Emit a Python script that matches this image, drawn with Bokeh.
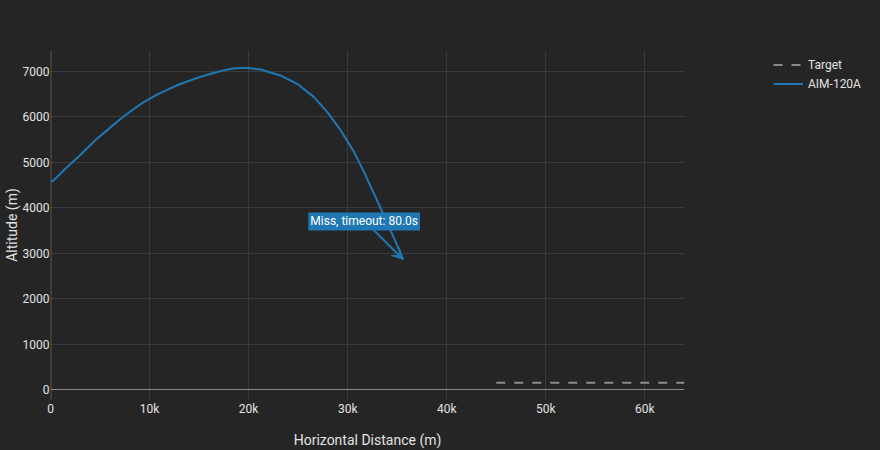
from bokeh.plotting import figure
from bokeh.models import (Range1d, FixedTicker, Span, Label, Arrow, VeeHead,
                          Legend, LegendItem)
from bokeh.embed import file_html
from bokeh.resources import INLINE

# ---- data ----
missile_x = [0, 250, 600, 1500, 2900, 4500, 6200, 7600, 9250, 10900, 12950,
             15000, 17000, 18350, 19700, 21200, 23200, 24900, 26600, 27950,
             29300, 30650, 31650, 32650, 33650, 34700, 35600]
missile_y = [4575, 4590, 4660, 4856, 5133, 5477, 5792, 6042, 6297, 6503, 6708,
             6868, 6993, 7059, 7075, 7037, 6906, 6723, 6429, 6099,
             5697, 5220, 4781, 4306, 3830, 3318, 2860]
target_x = [45000, 64000]
target_y = [150, 150]

x_ticks = [0, 10000, 20000, 30000, 40000, 50000, 60000]
x_tick_labels = ["0", "10k", "20k", "30k", "40k", "50k", "60k"]
y_ticks = [0, 1000, 2000, 3000, 4000, 5000, 6000, 7000]
y_tick_labels = ["0", "1000", "2000", "3000", "4000", "5000", "6000", "7000"]

annotation_text = "Miss, timeout: 80.0s"
series_names = ["Target", "AIM-120A"]
x_title = "Horizontal Distance (m)"
y_title = "Altitude (m)"

# ---- styling ----
BG = "#252525"
GRID = "#3a3a3a"
TXT = "#e2e2e2"
BLUE = "#1f77b4"
FONT = "Roboto"
X_RANGE = (0, 64000)
Y_RANGE = (-220, 7455)
FW, FH = 634, 349
LEFT, TOP = 50, 50

p = figure(frame_width=FW, frame_height=FH,
           x_range=Range1d(*X_RANGE), y_range=Range1d(*Y_RANGE),
           output_backend="svg", toolbar_location=None,
           min_border_left=LEFT, min_border_top=TOP,
           min_border_right=880 - LEFT - FW - 1,
           min_border_bottom=450 - TOP - FH,
           background_fill_color=BG, border_fill_color=None)
p.outline_line_color = None
p.outline_line_alpha = 0
p.styles = {"background-color": BG}

p.xaxis.ticker = FixedTicker(ticks=x_ticks)
p.yaxis.ticker = FixedTicker(ticks=y_ticks)
p.xaxis.major_label_overrides = dict(zip(x_ticks, x_tick_labels))
p.yaxis.major_label_overrides = dict(zip(y_ticks, y_tick_labels))
p.xgrid.ticker = FixedTicker(ticks=x_ticks)
p.ygrid.ticker = FixedTicker(ticks=y_ticks)
p.grid.grid_line_color = GRID
p.grid.grid_line_width = 1

for ax in (p.xaxis, p.yaxis):
    ax.axis_line_color = None
    ax.major_tick_line_color = None
    ax.minor_tick_line_color = None
    ax.major_tick_out = 0
    ax.major_tick_in = 0
    ax.minor_tick_out = 0
    ax.major_label_text_color = TXT
    ax.major_label_text_font = FONT
    ax.major_label_text_font_size = "12px"
    ax.axis_label_text_color = TXT
    ax.axis_label_text_font = FONT
    ax.axis_label_text_font_size = "14px"
    ax.axis_label_text_font_style = "normal"

p.xaxis.axis_label = x_title
p.xaxis.major_label_standoff = 2
p.xaxis.axis_label_standoff = 13
p.yaxis.axis_label = y_title
p.yaxis.major_label_standoff = 1
p.yaxis.axis_label_standoff = 0

# zero lines
p.add_layout(Span(location=0, dimension="height", line_color="#575757",
                  line_width=2, level="underlay"))
p.add_layout(Span(location=0, dimension="width", line_color="#8a8a8a",
                  line_width=1, level="underlay"))

r_t = p.line(target_x, target_y, line_color="#8c8c8c", line_width=2,
             line_dash="9 9")
r_m = p.line(missile_x, missile_y, line_color=BLUE, line_width=2,
             line_join="round")

# annotation with arrow pointing at last missile point
ux = (X_RANGE[1] - X_RANGE[0]) / FW
uy = (Y_RANGE[1] - Y_RANGE[0]) / FH
tip_x, tip_y = missile_x[-1], missile_y[-1]
p.add_layout(Arrow(end=VeeHead(size=11, fill_color=BLUE, line_color=BLUE),
                   x_start=tip_x - 31 * ux, y_start=tip_y + 31 * uy,
                   x_end=tip_x, y_end=tip_y,
                   line_color=BLUE, line_width=2))
p.add_layout(Label(x=tip_x, y=tip_y, x_offset=-39, y_offset=38,
                   text=annotation_text, text_align="center",
                   text_baseline="middle", text_color="white",
                   text_font=FONT, text_font_size="12px",
                   background_fill_color=BLUE, padding=2))

legend = Legend(items=[LegendItem(label=series_names[0], renderers=[r_t]),
                       LegendItem(label=series_names[1], renderers=[r_m])],
                location=(89, FH - 5 - 38), orientation="vertical",
                glyph_width=30, glyph_height=19, label_height=19,
                label_standoff=5, spacing=0, padding=0, margin=0,
                label_text_color=TXT, label_text_font=FONT,
                label_text_font_size="12px",
                background_fill_alpha=0, border_line_color=None)
p.add_layout(legend, "right")

open("out.html", "w").write(file_html(p, INLINE))
